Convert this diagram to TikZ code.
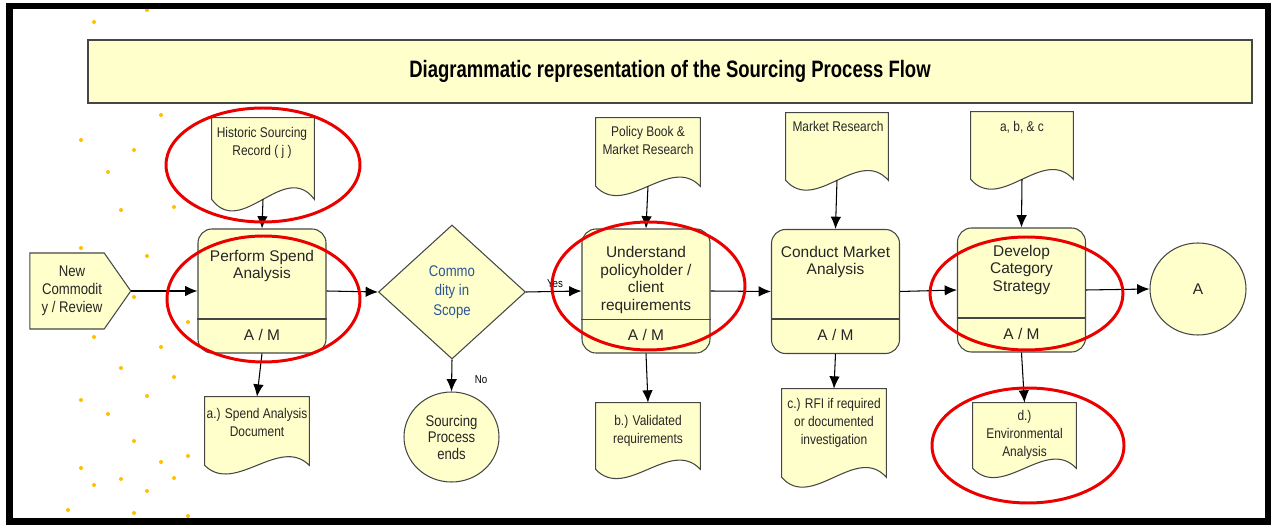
\documentclass[tikz,border=0pt]{standalone}
\usepackage{fontspec}
\setmainfont{Liberation Sans}
\newfontfamily\narrowfont[FakeStretch=0.85]{Liberation Sans}
\newfontfamily\titlefont[FakeStretch=0.78]{Liberation Sans}
\usepackage{tikz}
\usetikzlibrary{arrows.meta,shapes,positioning}
\definecolor{boxfill}{RGB}{255,255,204}
\definecolor{boxline}{RGB}{70,70,70}
\definecolor{ringred}{RGB}{235,0,0}
\definecolor{dotgold}{RGB}{255,192,0}
\definecolor{askblue}{RGB}{45,85,150}
\tikzset{
procbox/.style={draw=boxline, fill=boxfill, rounded corners=0.28cm, minimum width=2.56cm, minimum height=2.48cm, line width=0.6pt}, % process steps
proctext/.style={font=\fontsize{8.8}{10.2}\selectfont, align=center, inner sep=0pt, text=black!85},
docnode/.style={inner sep=0pt}, % body of a document, the outline comes from \docoutline
doctext/.style={font=\narrowfont\fontsize{8}{10.2}\selectfont, align=center, inner sep=0pt, anchor=north, text=black!85},
smalltext/.style={font=\narrowfont\fontsize{6.5}{7}\selectfont, inner sep=0pt},
flow/.style={-{Latex[length=7pt,width=6pt]}, line width=0.6pt}, % connectors
ring/.style={draw=ringred, line width=1.7pt} % red marks round some steps
}
% wavy bottom edge of a document, #2 is the depth of the wave
\newcommand{\docoutline}[2]{%
\draw[draw=boxline, fill=boxfill, line width=0.6pt] (#1.north west) -- (#1.north east) -- (#1.south east) .. controls +(-3,#2) and +(3,-#2) .. (#1.south west) -- cycle;}

\begin{document}
\begin{tikzpicture}[scale=0.2]
        \useasboundingbox (0,0) rectangle (127.1,-52.5);
        \foreach \x/\y in {9.4/-2.2,14.7/-1.0,16.1/-11.5,8.1/-14.0,13.4/-15.0,10.8/-17.2,12.1/-21.0,17.4/-20.7,8.1/-24.8,14.7/-25.6,13.4/-29.7,9.4/-33.7,16.1/-34.7,18.8/-32.2,12.1/-36.8,17.4/-37.7,8.1/-40.0,14.7/-39.6,10.8/-41.4,13.4/-44.1,16.1/-46.2,18.8/-45.6,8.1/-46.8,12.1/-47.9,17.4/-47.8,9.4/-48.5,14.7/-49.1,6.8/-51.0,13.4/-51.3,18.8/-51.6}
          \fill[dotgold] (\x,\y) circle (0.2);
        \node[draw=boxline, fill=boxfill, line width=0.6pt, minimum width=23.28cm, minimum height=1.26cm, font=\titlefont\bfseries\fontsize{13.5}{15}\selectfont] (title) at (67.0,-7.15) {Diagrammatic representation of the Sourcing Process Flow};
        % main line
        \node[signal, signal to=east, signal pointer angle=110, draw=boxline, fill=boxfill, line width=0.6pt, minimum width=2.02cm, minimum height=1.52cm, inner sep=0pt] (newc) at (6.7,-29.1) {};
        \node[proctext, font=\narrowfont\fontsize{8.8}{10.2}\selectfont] (newct) at (7.2,-29.1) {New\\Commodit\\y / Review};
        \node[procbox] (spend) at (26.2,-29.1) {};
        \node[proctext] (spendt) at (26.2,-26.6) {Perform Spend\\Analysis};
        \draw[draw=boxline, line width=0.6pt] (spend.west |- 0,-31.9) -- (spend.east |- 0,-31.9);
        \node[proctext] (spendam) at (26.2,-33.45) {A / M};
        \node[diamond, draw=boxline, fill=boxfill, line width=0.6pt, minimum width=2.94cm, minimum height=2.68cm, inner sep=0pt] (scope) at (45.2,-29.2) {};
        \node[proctext, font=\narrowfont\fontsize{8.8}{11.2}\selectfont, text=askblue] (scopet) at (45.2,-29.2) {Commo\\dity in\\Scope};
        \node[ellipse, draw=boxline, fill=boxfill, line width=0.6pt, minimum width=1.9cm, minimum height=1.8cm] (ends) at (45.15,-43.7) {};
        \node[proctext, font=\narrowfont\fontsize{8.8}{9.4}\selectfont] (endst) at (45.15,-43.7) {Sourcing\\Process\\ends};
        \node[procbox] (und) at (64.6,-29.1) {};
        \node[proctext] (undt) at (64.6,-28.0) {Understand\\policyholder /\\client\\requirements};
        \draw[draw=boxline, line width=0.6pt] (und.west |- 0,-31.95) -- (und.east |- 0,-31.95);
        \node[proctext] (undam) at (64.6,-33.45) {A / M};
        \node[procbox] (cma) at (83.55,-29.15) {};
        \node[proctext] (cmat) at (83.55,-26.2) {Conduct Market\\Analysis};
        \draw[draw=boxline, line width=0.6pt] (cma.west |- 0,-31.9) -- (cma.east |- 0,-31.9);
        \node[proctext] (cmaam) at (83.55,-33.45) {A / M};
        \node[procbox] (dcs) at (102.15,-29.0) {};
        \node[proctext] (dcst) at (102.15,-27.0) {Develop\\Category\\Strategy};
        \draw[draw=boxline, line width=0.6pt] (dcs.west |- 0,-31.8) -- (dcs.east |- 0,-31.8);
        \node[proctext] (dcsam) at (102.15,-33.35) {A / M};
        \node[ellipse, draw=boxline, fill=boxfill, line width=0.6pt, minimum width=1.92cm, minimum height=1.84cm, proctext] (anode) at (119.8,-28.9) {A};
        % documents going in
        \node[docnode, minimum width=2.04cm, minimum height=1.62cm] (hsr) at (26.3,-15.85) {};
        \docoutline{hsr}{4}
        \node[doctext] (hsrt) at (26.2,-12.7) {Historic Sourcing\\Record ( j )};
        \node[docnode, minimum width=2.08cm, minimum height=1.36cm] (pbmr) at (64.8,-15.2) {};
        \docoutline{pbmr}{3.2}
        \node[doctext] (pbmrt) at (64.8,-12.6) {Policy Book \&\\Market Research};
        \node[docnode, minimum width=2.04cm, minimum height=1.34cm] (mr) at (83.7,-14.65) {};
        \docoutline{mr}{3.4}
        \node[doctext] (mrt) at (83.8,-12.1) {Market Research};
        \node[docnode, minimum width=2.04cm, minimum height=1.34cm] (abc) at (102.2,-14.55) {};
        \docoutline{abc}{3.4}
        \node[doctext] (abct) at (102.2,-12.1) {a, b, \& c};
        % documents coming out
        \node[docnode, minimum width=2.08cm, minimum height=1.36cm] (sad) at (25.7,-43.1) {};
        \docoutline{sad}{3}
        \node[doctext] (sadt) at (25.7,-40.8) {a.) Spend Analysis\\Document};
        \node[docnode, minimum width=2.08cm, minimum height=1.32cm] (vreq) at (64.8,-43.6) {};
        \docoutline{vreq}{3.2}
        \node[doctext] (vreqt) at (64.8,-41.5) {b.) Validated\\requirements};
        \node[docnode, minimum width=2.08cm, minimum height=1.76cm] (rfi) at (83.4,-43.3) {};
        \docoutline{rfi}{3.4}
        \node[doctext] (rfit) at (83.4,-39.8) {c.) RFI if required\\or documented\\investigation};
        \node[docnode, minimum width=2.06cm, minimum height=1.30cm] (env) at (102.45,-43.55) {};
        \docoutline{env}{3.2}
        \node[doctext] (envt) at (102.45,-41.0) {d.)\\Environmental\\Analysis};
        % connectors
        \draw[flow] (newc.east) -- (spend.west);
        \draw[flow] (spend.east) -- (scope.west);
        \draw[flow] (scope.east) -- (und.west);
        \draw[flow] (und.east) -- (cma.west);
        \draw[flow] (cma.east) -- (dcs.west);
        \draw[flow] (dcs.east) -- (anode.west);
        \draw[flow] (scope.south) -- (ends.north);
        \draw[flow] (hsr.south) -- (spend.north);
        \draw[flow] (spend.south) -- (sad.north);
        \draw[flow] (pbmr.south) -- (und.north);
        \draw[flow] (und.south) -- (vreq.north);
        \draw[flow] (mr.south) -- (cma.north);
        \draw[flow] (cma.south) -- (rfi.north);
        \draw[flow] (abc.south) -- (dcs.north);
        \draw[flow] (dcs.south) -- (env.north);
        \node[smalltext] (yeslab) at (55.5,-28.4) {Yes};
        \node[smalltext] (nolab) at (48.1,-38.0) {No};
        % red marks
        \draw[ring] (26.3,-16.5) ellipse (9.7 and 5.7);
        \draw[ring] (26.35,-29.9) ellipse (9.65 and 6.3);
        \draw[ring] (64.85,-28.6) ellipse (9.65 and 6.4);
        \draw[ring] (102.65,-29.35) ellipse (9.65 and 5.65);
        \draw[ring] (102.8,-44.55) ellipse (9.6 and 5.75);
        \draw[line width=0.13cm] (0.95,-0.6) rectangle (126.8,-52.15);
\end{tikzpicture}
\end{document}
